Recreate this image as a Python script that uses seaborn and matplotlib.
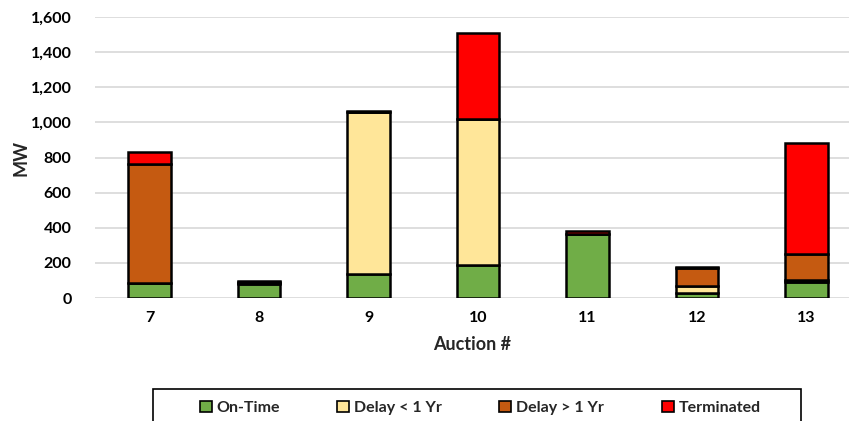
import numpy as np
import matplotlib
matplotlib.use("Agg")
import matplotlib.pyplot as plt
from matplotlib.patches import Patch, Rectangle
from matplotlib.ticker import FuncFormatter
import seaborn as sns

# Capacity by auction (MW), split by commercial-operation status
auctions = ["7", "8", "9", "10", "11", "12", "13"]
on_time = [85, 80, 137, 190, 365, 30, 93]
delay_lt_1yr = [0, 5, 920, 827, 0, 38, 12]
delay_gt_1yr = [677, 8, 4, 0, 0, 104, 145]
terminated = [72, 5, 4, 494, 18, 5, 634]

series_names = ["On-Time", "Delay < 1 Yr", "Delay > 1 Yr", "Terminated"]
series_values = [on_time, delay_lt_1yr, delay_gt_1yr, terminated]
series_colors = ["#70AD47", "#FFE699", "#C55A11", "#FF0000"]

sns.set_theme(style="white")
plt.rcParams["font.family"] = ["Lato", "DejaVu Sans"]
plt.rcParams["font.weight"] = "bold"

W, H = 849, 421
fig = plt.figure(figsize=(W / 100, H / 100), dpi=100)
ax = fig.add_axes([95 / W, 1 - 298 / H, 1 - 95 / W, (298 - 17) / H])

bottom = np.zeros(len(auctions))
for name, vals, col in zip(series_names, series_values, series_colors):
    sns.barplot(x=auctions, y=vals, bottom=bottom, color=col, width=0.39,
                edgecolor="black", linewidth=1.8, saturation=1,
                errorbar=None, ax=ax, zorder=3)
    bottom = bottom + np.array(vals)

ax.set_ylim(0, 1600)
ax.set_xlim(-0.5, 6.39)
ax.set_yticks(np.arange(0, 1601, 200))
ax.yaxis.set_major_formatter(FuncFormatter(lambda v, p: f"{int(v):,}"))
ax.grid(axis="y", color="#d4d4d4", linewidth=1.1, zorder=0)
ax.grid(axis="x", visible=False)
for s in ax.spines.values():
    s.set_visible(False)
ax.tick_params(axis="both", length=0, labelsize=11.5, colors="black")
ax.tick_params(axis="y", pad=17)
ax.tick_params(axis="x", pad=9)
for lbl in ax.get_xticklabels() + ax.get_yticklabels():
    lbl.set_fontweight("bold")

ax.set_xlabel("Auction #", fontsize=13, fontweight="bold", labelpad=8)
ax.set_ylabel("MW", fontsize=13, fontweight="bold", labelpad=1)

# Legend box along the bottom edge
fig.add_artist(Rectangle((153 / W, -0.05), (801 - 153) / W, (421 - 389) / H + 0.05,
                         transform=fig.transFigure, fill=False,
                         edgecolor="black", linewidth=1.2))
handles = [Patch(facecolor=c, edgecolor="black", linewidth=1.2, label=n)
           for n, c in zip(series_names, series_colors)]
fig.legend(handles=handles, loc="center", bbox_to_anchor=(480 / W, 1 - 408 / H),
           ncol=4, frameon=False, handlelength=0.75,
           handleheight=0.75, handletextpad=0.3, columnspacing=3.6,
           prop={"weight": "bold", "size": 11.5})

fig.savefig("out.png", dpi=100)
